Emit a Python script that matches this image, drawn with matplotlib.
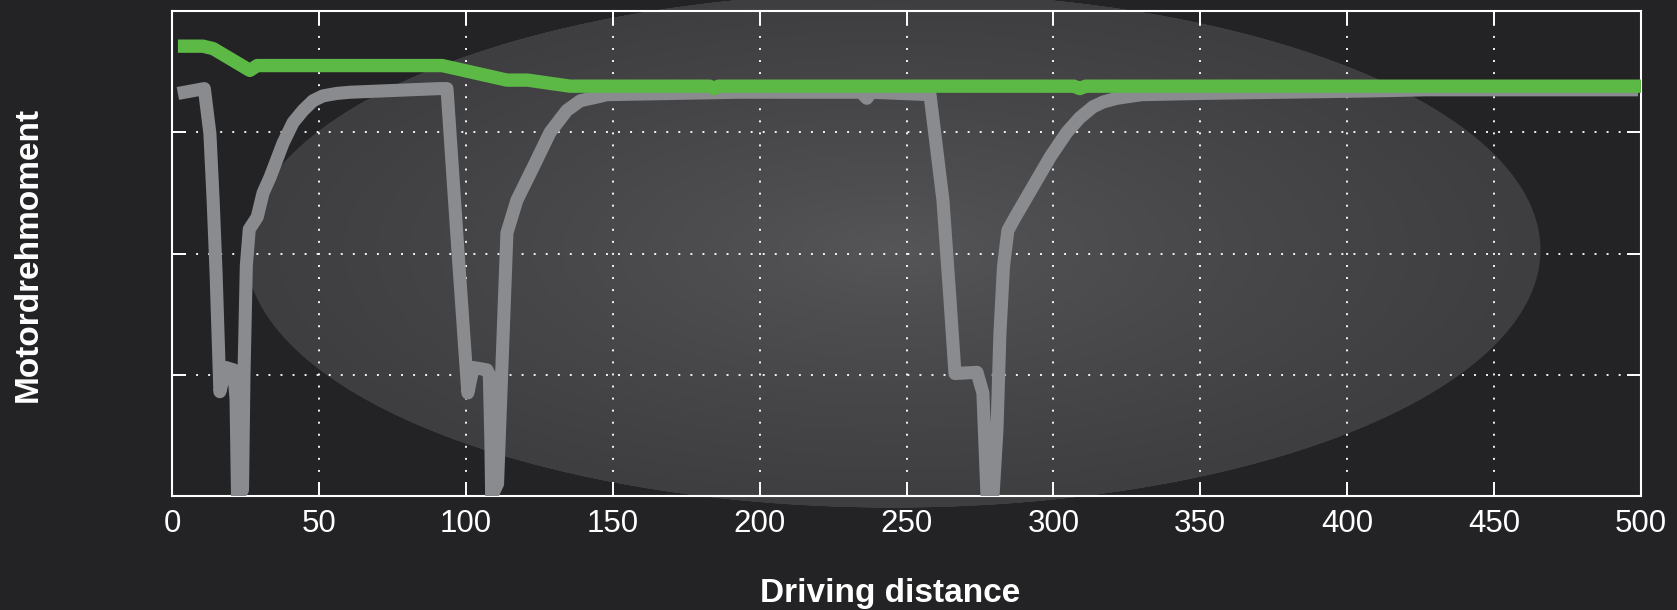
import numpy as np
import matplotlib.pyplot as plt

# values (torque axis has no units / labels)
dist_green = [2, 10.5, 14, 26.5, 29, 92, 114, 121, 135.5, 183, 184.5, 186,
              307, 309, 311, 500]
torque_green = [3.71, 3.71, 3.69, 3.51, 3.55, 3.55, 3.43, 3.43, 3.38, 3.38, 3.36, 3.38,
                3.38, 3.36, 3.38, 3.38]

dist_gray = [2, 11, 12.9, 14, 15, 16.3, 18.3, 21.0, 21.8, 22.3, 24.0, 24.5, 25.3, 26.3,
             29, 31, 33.4, 37.8, 41.2, 44.6, 48, 51.4, 56, 60.6, 91, 93.6, 97.3, 100.7,
             102.5, 107.2, 108, 108.5, 108.8, 110.8, 112.5, 114, 117.4, 122.9, 128.7,
             134.4, 139, 144.6, 148, 193, 234.5, 236.5, 238, 258, 262.4, 264.8, 266.5,
             274, 276, 277.4, 279.5, 280.8, 281.8, 283, 284.5, 287, 293, 299, 304.6,
             309, 313.5, 317, 321.6, 330, 350, 406.7, 427, 499]
torque_gray = [3.32, 3.36, 2.99, 2.44, 1.84, 0.86, 1.06, 1.04, 0.8, 0.0, 0.05, 1.0, 1.9, 2.2,
               2.3, 2.5, 2.63, 2.91, 3.08, 3.18, 3.26, 3.3, 3.32, 3.33, 3.36, 3.36, 2.03,
               0.85, 1.06, 1.04, 1.0, 0.5, 0.0, 0.1, 1.2, 2.17, 2.44, 2.71, 3.0,
               3.18, 3.26, 3.29, 3.31, 3.33, 3.33, 3.28, 3.33, 3.31, 2.44, 1.62, 1.01,
               1.02, 0.85, 0.0, 0.02, 0.55, 1.34, 1.89, 2.19, 2.3, 2.55, 2.8, 3.0,
               3.12, 3.21, 3.25, 3.28, 3.31, 3.32, 3.34, 3.35, 3.35]

x_ticks = list(range(0, 501, 50))
y_ticks = [0, 1, 2, 3, 4]

W, H = 1677, 610
BG = '#232325'

plt.rcParams['font.family'] = ['Liberation Sans', 'DejaVu Sans']

fig = plt.figure(figsize=(W / 100, H / 100), dpi=100, facecolor=BG)

# soft elliptical glow behind the plot
bg = fig.add_axes([0, 0, 1, 1], zorder=0)
yy, xx = np.mgrid[0:H, 0:W] + 0.5
cx, cy, a, b = 893, 250, 648, 258
r = np.sqrt(((xx - cx) / a) ** 2 + ((yy - cy) / b) ** 2)
c0 = np.array([0x56, 0x56, 0x58]) / 255
c1 = np.array([0x3e, 0x3e, 0x40]) / 255
t = np.clip(r, 0, 1)[..., None] ** 0.8
img = np.zeros((H, W, 4))
img[..., :3] = c0 + (c1 - c0) * t
img[..., 3] = np.clip((1 - r) * 600, 0, 1)
bg.imshow(img, extent=[0, W, H, 0], interpolation='bilinear')
bg.set_xlim(0, W)
bg.set_ylim(H, 0)
bg.axis('off')

ax = fig.add_axes([172 / W, (H - 496) / H, (1641 - 172) / W, (496 - 11) / H], zorder=1)
ax.set_facecolor('none')

ax.plot(dist_gray, torque_gray, color='#8a8b8f', lw=9.4,
        solid_joinstyle='round', solid_capstyle='butt', zorder=3)
ax.plot(dist_green, torque_green, color='#5cb946', lw=9.6,
        solid_joinstyle='round', solid_capstyle='butt', zorder=4)

ax.set_xlim(0, 500)
ax.set_ylim(0, 4)
ax.set_xticks(x_ticks)
ax.set_yticks(y_ticks)
ax.set_yticklabels([])
ax.tick_params(axis='both', direction='in', length=10, width=1.4, color='white',
               top=True, right=True, labelcolor='white', labelsize=22.5, pad=9)
ax.grid(True, color='white', lw=1.4, linestyle=(0, (1, 5.2)), alpha=0.95, zorder=1)
for s in ax.spines.values():
    s.set_color('white')
    s.set_linewidth(1.5)

fig.text(890 / W, 1 - 602 / H, 'Driving distance', color='white', fontsize=24,
         fontweight='bold', ha='center', va='baseline')
fig.text(37 / W, 1 - 254 / H, 'Motordrehmoment', color='white', fontsize=24,
         fontweight='bold', ha='center', va='baseline', rotation=90,
         rotation_mode='anchor')

fig.savefig('out.png', dpi=100, facecolor=BG)
